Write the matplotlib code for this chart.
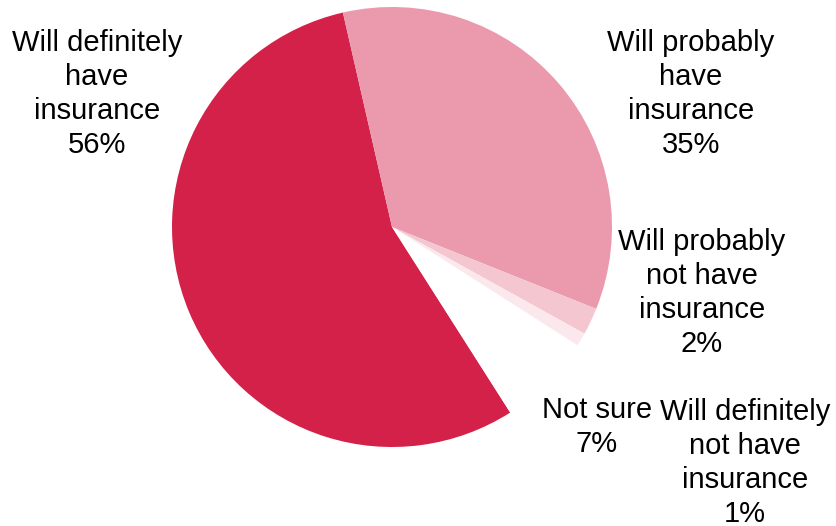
import matplotlib.pyplot as plt

plt.rcParams['font.family'] = ['Liberation Sans', 'DejaVu Sans']

labels = ['Will definitely\nhave\ninsurance', 'Will probably\nhave\ninsurance',
          'Will probably\nnot have\ninsurance', 'Will definitely\nnot have\ninsurance',
          'Not sure']
values = [56, 35, 2, 1, 7]
colors = ['#D42149', '#EA9AAC', '#F3C6D0', '#FAE8ED', '#FFFFFF']

# label anchor points in pixel space (y measured from top)
label_xy = [(97, 94), (691, 94), (702, 293), (745, 463), (597, 427)]

W, H = 837, 526
fig = plt.figure(figsize=(W / 100, H / 100), dpi=100)
ax = fig.add_axes([0, 0, 1, 1])

ax.pie(values, colors=colors, startangle=302.5, counterclock=False,
       center=(392, H - 227), radius=220, frame=True,
       wedgeprops=dict(linewidth=0))
ax.set_xlim(0, W)
ax.set_ylim(0, H)
ax.set_aspect('equal')
ax.axis('off')

for lab, v, (x, y) in zip(labels, values, label_xy):
    ax.text(x, H - y, f'{lab}\n{v}%', ha='center', va='center',
            fontsize=21, linespacing=1.26, color='black')

fig.savefig('out.png', dpi=100)
